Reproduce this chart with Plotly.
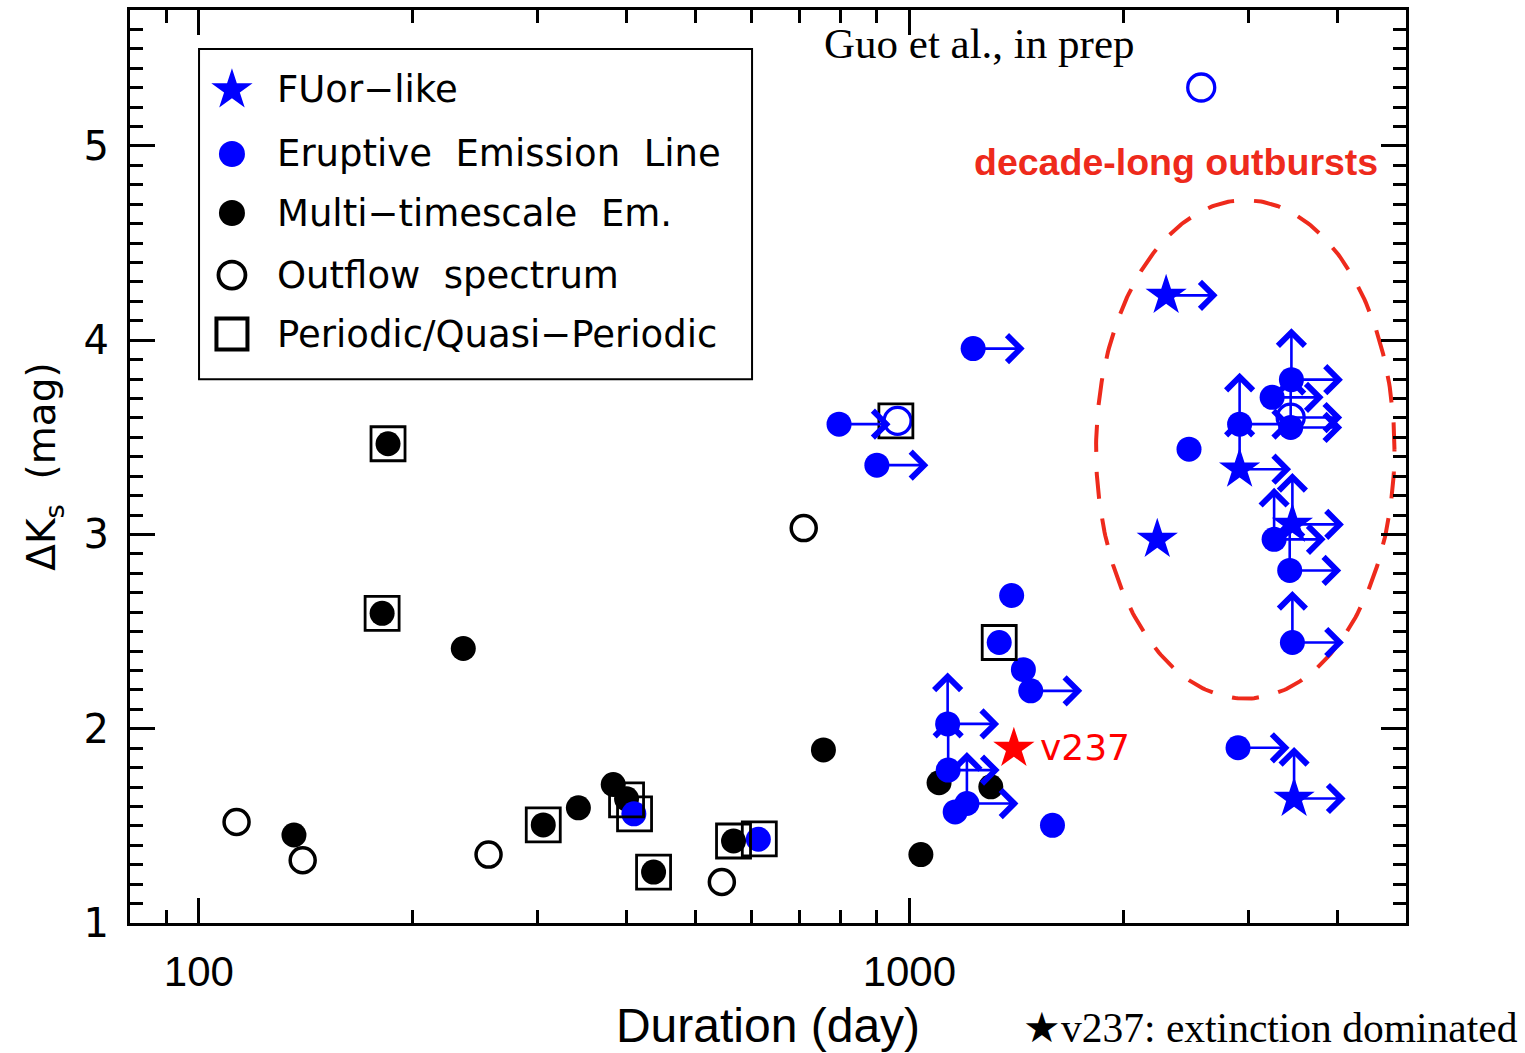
import numpy as np
import plotly.graph_objects as go

# ---------------- data (duration in days, Delta K_s in mag) ----------------
# Multi-timescale emission (black filled circles)
mte_days = [184.6, 181.1, 235.6, 136.1, 305.3, 342.1, 383.0, 399.9, 436.5, 565.6, 756.9, 1038, 1101, 1302]
mte_dks = [3.467, 2.594, 2.413, 1.453, 1.505, 1.593, 1.713, 1.639, 1.262, 1.422, 1.891, 1.352, 1.722, 1.701]

# Outflow spectrum (black open circles)
out_days = [113.0, 140.0, 255.7, 544.6, 710.1]
out_dks = [1.520, 1.323, 1.352, 1.211, 3.033]

# Outflow spectrum of eruptive objects (blue open circles)
outb_days = [2575, 962.5, 3441]
outb_dks = [5.301, 3.585, 3.602]
outb_xlim = [0, 0, 1]
outb_ylim = [0, 0, 0]

# Eruptive emission line (blue filled circles)
eel_days = [409.5, 612.9, 796.2, 900.0, 1229.6, 1393, 1338, 1447, 1482, 1132, 1134, 1205, 1160, 1590,
            2901, 2475, 2916, 3449, 3240, 3441, 3261, 3430, 3460]
eel_dks = [1.562, 1.431, 3.568, 3.357, 3.957, 2.686, 2.444, 2.304, 2.195, 2.025, 1.787, 1.615, 1.572, 1.503,
           1.902, 3.439, 3.568, 3.797, 3.706, 3.551, 2.975, 2.815, 2.444]
eel_xlim = [0, 0, 1, 1, 1, 0, 0, 0, 1, 1, 1, 1, 0, 0, 1, 0, 1, 1, 1, 1, 1, 1, 1]
eel_ylim = [0, 0, 0, 0, 0, 0, 0, 0, 0, 1, 1, 1, 0, 0, 0, 0, 1, 1, 0, 1, 1, 1, 1]

# FUor-like (blue stars)
fu_days = [2298, 2916, 2233, 3460, 3479]
fu_dks = [4.231, 3.336, 2.975, 3.052, 1.641]
fu_xlim = [1, 1, 0, 1, 1]
fu_ylim = [0, 1, 0, 1, 1]

# Periodic / quasi-periodic (open squares)
per_days = [184.6, 181.1, 305.3, 399.9, 410.4, 436.5, 565.6, 614.9, 957.2, 1338]
per_dks = [3.467, 2.594, 1.505, 1.634, 1.562, 1.262, 1.422, 1.433, 3.585, 2.444]

# v237 (extinction dominated)
v237_days = [1403]
v237_dks = [1.899]

# decade-long outburst region (ellipse in log-duration / mag space)
ell_center_days = 2970
ell_center_dks = 3.438
ell_half_logdays = 0.210
ell_half_dks = 1.283

legend_labels = ["FUor\u2212like", "Eruptive  Emission  Line", "Multi\u2212timescale  Em.",
                 "Outflow  spectrum", "Periodic/Quasi\u2212Periodic"]

x_ticks = [100, 1000]
x_minor = [80, 90, 200, 300, 400, 500, 600, 700, 800, 900, 2000, 3000, 4000, 5000]

# ---------------- styles ----------------
BLUE = "#0000ff"
RED = "#ff0000"
ORANGE_RED = "#ee2a1c"
LBL_FONT = "DejaVu Sans"
ARROW_LEN = 53

fig = go.Figure()

# ellipse
t = np.linspace(0, 2 * np.pi, 400)
fig.add_trace(go.Scatter(
    x=10 ** (np.log10(ell_center_days) + ell_half_logdays * np.cos(t)),
    y=ell_center_dks + ell_half_dks * np.sin(t),
    mode="lines", line=dict(color=ORANGE_RED, width=4, dash="27px,20px"),
    hoverinfo="skip", showlegend=False))

fig.add_trace(go.Scatter(x=out_days, y=out_dks, mode="markers", showlegend=False,
                         marker=dict(symbol="circle-open", size=25, color="black", line=dict(width=3.5))))
fig.add_trace(go.Scatter(x=mte_days, y=mte_dks, mode="markers", showlegend=False,
                         marker=dict(symbol="circle", size=25, color="black")))
fig.add_trace(go.Scatter(x=eel_days, y=eel_dks, mode="markers", showlegend=False,
                         marker=dict(symbol="circle", size=25, color=BLUE)))
fig.add_trace(go.Scatter(x=outb_days, y=outb_dks, mode="markers", showlegend=False,
                         marker=dict(symbol="circle-open", size=27, color=BLUE, line=dict(width=3.3))))
fig.add_trace(go.Scatter(x=per_days, y=per_dks, mode="markers", showlegend=False,
                         marker=dict(symbol="square-open", size=34, color="black", line=dict(width=2.8))))
fig.add_trace(go.Scatter(x=fu_days, y=fu_dks, mode="markers", showlegend=False,
                         marker=dict(symbol="star", size=31, color=BLUE)))
fig.add_trace(go.Scatter(x=v237_days, y=v237_dks, mode="markers", showlegend=False,
                         marker=dict(symbol="star", size=31, color=RED)))

annotations = []


def add_limits(days, dks, xlim, ylim):
    for d, m, xl, yl in zip(days, dks, xlim, ylim):
        if xl:
            annotations.append(dict(x=np.log10(d), y=m, xref="x", yref="y", text="", showarrow=True,
                                    ax=ARROW_LEN, ay=0, arrowside="start", startarrowhead=4,
                                    startarrowsize=2.0, arrowwidth=2.6, arrowcolor=BLUE,
                                    standoff=0, startstandoff=0))
        if yl:
            annotations.append(dict(x=np.log10(d), y=m, xref="x", yref="y", text="", showarrow=True,
                                    ax=0, ay=-ARROW_LEN, arrowside="start", startarrowhead=4,
                                    startarrowsize=2.0, arrowwidth=2.6, arrowcolor=BLUE,
                                    standoff=0, startstandoff=0))


add_limits(eel_days, eel_dks, eel_xlim, eel_ylim)
add_limits(fu_days, fu_dks, fu_xlim, fu_ylim)
add_limits(outb_days, outb_dks, outb_xlim, outb_ylim)

# v237 label
annotations.append(dict(x=np.log10(v237_days[0]), y=v237_dks[0], xref="x", yref="y", text="v237",
                        showarrow=False, xanchor="left", yanchor="middle", xshift=24, yshift=1,
                        font=dict(family=LBL_FONT, size=36, color=RED)))

# free texts
annotations.append(dict(x=0.6655, y=0.9638, xref="paper", yref="paper", text="Guo et al., in prep",
                        showarrow=False, xanchor="center", yanchor="middle",
                        font=dict(family="Liberation Serif", size=43, color="black")))
annotations.append(dict(x=0.8201, y=0.8335, xref="paper", yref="paper", text="<b>decade-long outbursts</b>",
                        showarrow=False, xanchor="center", yanchor="middle",
                        font=dict(family="Liberation Sans", size=37.5, color=ORANGE_RED)))
annotations.append(dict(x=1.0893, y=-0.1154, xref="paper", yref="paper", xanchor="right", yanchor="middle",
                        text="\u2605v237: extinction dominated", showarrow=False,
                        font=dict(family="Liberation Serif", size=41.5, color="black")))

# ---------------- manual legend ----------------
leg_rows = [0.9124, 0.8423, 0.7776, 0.7097, 0.6450]
leg_sym_x = 0.0799
leg_txt_x = 0.1136
leg_styles = [
    dict(symbol="star", size=31, color=BLUE),
    dict(symbol="circle", size=26, color=BLUE),
    dict(symbol="circle", size=26, color="black"),
    dict(symbol="circle-open", size=27, color="black", line=dict(width=3.8)),
    dict(symbol="square-open", size=31, color="black", line=dict(width=4)),
]
for lbl, row, st in zip(legend_labels, leg_rows, leg_styles):
    fig.add_trace(go.Scatter(x=[leg_sym_x], y=[row], xaxis="x2", yaxis="y2", mode="markers",
                             marker=st, showlegend=False, hoverinfo="skip"))
    annotations.append(dict(x=leg_txt_x, y=row, xref="paper", yref="paper", text=lbl, showarrow=False,
                            xanchor="left", yanchor="middle",
                            font=dict(family=LBL_FONT, size=37, color="black")))

shapes = [dict(type="rect", xref="paper", yref="paper", x0=0.0541, x1=0.4875, y0=0.5957, y1=0.9573,
               line=dict(color="black", width=2), fillcolor="rgba(0,0,0,0)", layer="below")]

axis_common = dict(showline=True, linecolor="black", linewidth=3, mirror="allticks",
                   ticks="inside", tickcolor="black", tickwidth=2.5, ticklen=25,
                   showgrid=False, zeroline=False)

fig.update_layout(
    width=1525, height=1053,
    margin=dict(l=130, r=119, t=10, b=130),
    paper_bgcolor="white", plot_bgcolor="white",
    template="none",
    showlegend=False,
    xaxis=dict(type="log", range=[np.log10(80), np.log10(5000)],
               tickmode="array", tickvals=x_ticks, ticktext=[str(v) for v in x_ticks],
               tickfont=dict(family="Liberation Sans", size=42, color="black"),
               ticklabelstandoff=10,
               minor=dict(tickmode="array", tickvals=x_minor, ticks="inside", ticklen=13,
                          tickwidth=2.5, tickcolor="black"),
               title=dict(text="Duration (day)", font=dict(family="Liberation Sans", size=48, color="black"),
                          standoff=14),
               **axis_common),
    yaxis=dict(range=[1.0, 5.70], tickmode="linear", tick0=0, dtick=1,
               tickfont=dict(family=LBL_FONT, size=40, color="black"),
               ticklabelstandoff=10,
               minor=dict(tick0=0, dtick=0.1, ticks="inside", ticklen=13, tickwidth=2.5, tickcolor="black"),
               title=dict(text="\u0394K<sub>s</sub>  (mag)", font=dict(family=LBL_FONT, size=39, color="black"),
                          standoff=16),
               **axis_common),
    xaxis2=dict(overlaying="x", range=[0, 1], visible=False, fixedrange=True),
    yaxis2=dict(overlaying="y", range=[0, 1], visible=False, fixedrange=True),
    annotations=annotations,
    shapes=shapes,
)

fig.write_html("out.html")
